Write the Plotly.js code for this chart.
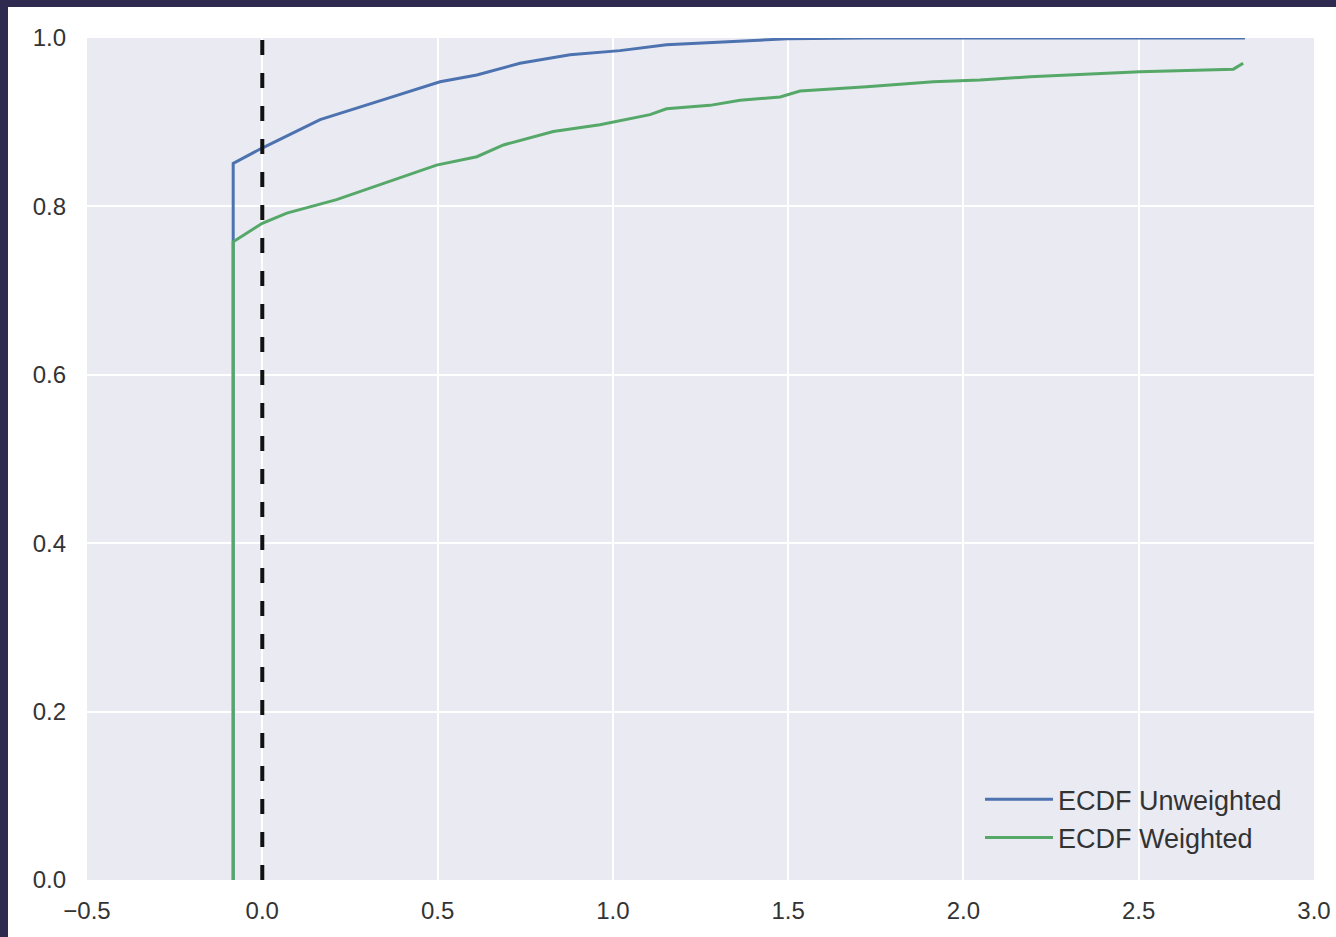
<!DOCTYPE html>
<html>
<head>
<meta charset="utf-8">
<script src="https://cdn.plot.ly/plotly-3.0.1.min.js"></script>
<style>
  html, body { margin: 0; padding: 0; background: #2e2a50; width: 1336px; height: 937px; overflow: hidden; }
  #chart { position: absolute; left: 8px; top: 7px; width: 1328px; height: 930px; background: #ffffff; }
</style>
</head>
<body>
<div id="chart"></div>
<script>
// ECDF (unweighted)
const unweightedX = [-0.083, -0.083, -0.002, 0.165, 0.355, 0.507, 0.612, 0.735, 0.878, 1.020, 1.153, 1.343, 1.496, 1.72, 2.803];
const unweightedY = [0.0, 0.851, 0.869, 0.903, 0.928, 0.948, 0.956, 0.970, 0.980, 0.985, 0.992, 0.996, 0.999, 1.0, 1.0];

// ECDF (weighted)
const weightedX = [-0.083, -0.083, 0.0, 0.07, 0.212, 0.355, 0.497, 0.612, 0.688, 0.83, 0.963, 1.106, 1.153, 1.277, 1.363, 1.477, 1.534, 1.724, 1.866, 1.914, 2.047, 2.19, 2.503, 2.77, 2.798];
const weightedY = [0.0, 0.758, 0.780, 0.792, 0.808, 0.829, 0.849, 0.859, 0.873, 0.889, 0.897, 0.909, 0.916, 0.920, 0.926, 0.930, 0.937, 0.942, 0.946, 0.948, 0.950, 0.954, 0.960, 0.963, 0.970];

const seriesNames = ["ECDF Unweighted", "ECDF Weighted"];
const referenceX = 0.0;

const xTicks = [-0.5, 0.0, 0.5, 1.0, 1.5, 2.0, 2.5, 3.0];
const yTicks = [0.0, 0.2, 0.4, 0.6, 0.8, 1.0];

const fontFamily = 'Arial, "Liberation Sans", "DejaVu Sans", sans-serif';

const traces = [
  { x: unweightedX, y: unweightedY, name: seriesNames[0], mode: 'lines',
    line: { color: '#4C72B0', width: 3 } },
  { x: weightedX, y: weightedY, name: seriesNames[1], mode: 'lines',
    line: { color: '#55A868', width: 3 } }
];

const layout = {
  width: 1328, height: 930,
  margin: { l: 79, r: 22, t: 31, b: 57, pad: 0 },
  paper_bgcolor: '#ffffff',
  plot_bgcolor: '#EAEAF2',
  font: { family: fontFamily, size: 24, color: '#333333' },
  showlegend: true,
  legend: {
    x: 0.978, xanchor: 'right', y: 0.021, yanchor: 'bottom',
    bgcolor: 'rgba(0,0,0,0)', font: { size: 27, color: '#333333' },
    itemwidth: 68, tracegroupgap: 0
  },
  xaxis: {
    range: [-0.5, 3.0], tickvals: xTicks, tickformat: '.1f',
    showgrid: true, gridcolor: '#ffffff', gridwidth: 2,
    zeroline: false, showline: false, ticks: '',
    ticklabelstandoff: 14, fixedrange: true
  },
  yaxis: {
    range: [0, 1.0], tickvals: yTicks, tickformat: '.1f',
    showgrid: true, gridcolor: '#ffffff', gridwidth: 2,
    zeroline: false, showline: false, ticks: '',
    ticklabelstandoff: 20, fixedrange: true
  },
  shapes: [
    { type: 'line', xref: 'x', yref: 'paper', x0: referenceX, x1: referenceX, y0: 0, y1: 1,
      line: { color: '#111111', width: 4, dash: '15px,18px' } }
  ]
};

Plotly.newPlot('chart', traces, layout, { displayModeBar: false, staticPlot: true });
</script>
</body>
</html>
